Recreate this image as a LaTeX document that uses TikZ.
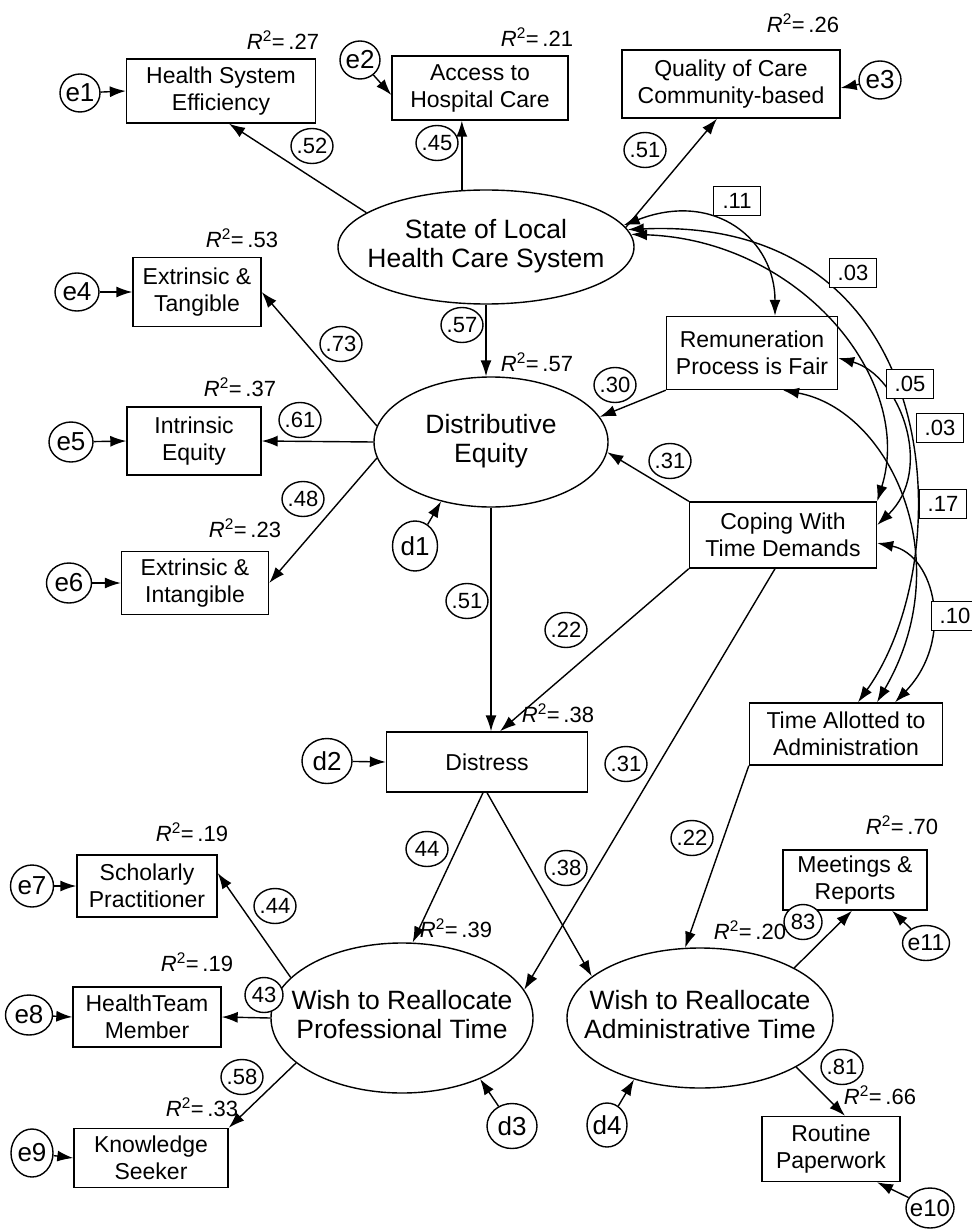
\documentclass[tikz,border=0pt]{standalone}
\usepackage{fontspec}
\setmainfont{Liberation Sans}
\usetikzlibrary{shapes.geometric,arrows.meta,calc}
\newcommand\Rsq[1]{\textit{R}\textsuperscript{2}=\,#1}
% text that does not widen the ellipse around it
\newcommand\zw[1]{\makebox[0pt]{#1}}
\newcommand\zww[1]{\makebox[0pt]{\raisebox{-4pt}{\begin{tabular}{@{}c@{}}#1\end{tabular}}}}
\begin{document}
\begin{tikzpicture}[x=1pt,y=-1pt,line width=1.4pt,
  >={Latex[length=16pt,width=11pt]},
  box/.style={draw,rectangle,inner sep=0pt,align=center,font=\fontsize{23}{27}\selectfont},
  lat/.style={draw,ellipse,inner sep=0pt,font=\fontsize{26.5}{29}\selectfont},
  err/.style={draw,ellipse,inner sep=0pt,font=\fontsize{26}{28}\selectfont},
  coef/.style={draw,ellipse,fill=white,inner sep=0pt,minimum width=42pt,minimum height=35pt,font=\fontsize{22}{24}\selectfont},
  corr/.style={draw,rectangle,fill=white,inner sep=0pt,minimum width=47pt,minimum height=29pt,font=\fontsize{22}{24}\selectfont},
  rsq/.style={inner sep=0pt,font=\fontsize{22}{24}\selectfont},
]
\useasboundingbox (0,0) rectangle (971,1230);

% latent variables
\node[lat,minimum width=296pt,minimum height=114pt] (slhcs) at (486,247) {\zww{State of Local\\Health Care System}};
\node[lat,minimum width=234pt,minimum height=130pt] (de) at (491,442) {\zww{Distributive\\Equity}};
\node[lat,minimum width=262pt,minimum height=150pt] (wrpt) at (402,1018) {\zww{Wish to Reallocate\\Professional Time}};
\node[lat,minimum width=266pt,minimum height=140pt] (wrat) at (700,1018) {\zww{Wish to Reallocate\\Administrative Time}};

% observed variables
\node[box,minimum width=189pt,minimum height=64pt] (hse) at (221,91) {Health System\\Efficiency};
\node[box,minimum width=176pt,minimum height=64pt] (acc) at (480,88) {Access to\\Hospital Care};
\node[box,minimum width=218pt,minimum height=68pt] (qual) at (731,84) {Quality of Care\\Community-based};
\node[box,minimum width=128pt,minimum height=69pt] (et) at (197,292) {Extrinsic \&\\Tangible};
\node[box,minimum width=134pt,minimum height=68pt] (ie) at (194,441) {Intrinsic\\Equity};
\node[box,minimum width=147pt,minimum height=63pt] (ei) at (195,583) {Extrinsic \&\\Intangible};
\node[box,minimum width=171pt,minimum height=73pt] (rem) at (752,353) {Remuneration\\Process is Fair};
\node[box,minimum width=187pt,minimum height=66pt] (cope) at (783,535) {Coping With\\Time Demands};
\node[box,minimum width=201pt,minimum height=60pt] (dist) at (487,762) {Distress};
\node[box,minimum width=193pt,minimum height=62pt] (time) at (846,734) {Time Allotted to\\Administration};
\node[box,minimum width=140pt,minimum height=62pt] (sch) at (147,886) {Scholarly\\Practitioner};
\node[box,minimum width=148pt,minimum height=60pt] (htm) at (147,1017) {HealthTeam\\Member};
\node[box,minimum width=154pt,minimum height=59pt] (ks) at (151,1158) {Knowledge\\Seeker};
\node[box,minimum width=144pt,minimum height=60pt] (meet) at (855,880) {Meetings \&\\Reports};
\node[box,minimum width=138pt,minimum height=65pt] (rout) at (831,1149) {Routine\\Paperwork};

% error and disturbance terms
\node[err,minimum width=40pt,minimum height=38pt] (e1) at (80,93) {\zw{e1}};
\node[err,minimum width=40pt,minimum height=38pt] (e2) at (360,60) {\zw{e2}};
\node[err,minimum width=42pt,minimum height=38pt] (e3) at (880,80) {\zw{e3}};
\node[err,minimum width=44pt,minimum height=38pt] (e4) at (77,292) {\zw{e4}};
\node[err,minimum width=44pt,minimum height=40pt] (e5) at (71,442) {\zw{e5}};
\node[err,minimum width=45pt,minimum height=40pt] (e6) at (69,583) {\zw{e6}};
\node[err,minimum width=43pt,minimum height=42pt] (e7) at (32,886) {\zw{e7}};
\node[err,minimum width=47pt,minimum height=40pt] (e8) at (29,1015) {\zw{e8}};
\node[err,minimum width=42pt,minimum height=48pt] (e9) at (32,1153) {\zw{e9}};
\node[err,minimum width=48pt,minimum height=40pt,font=\fontsize{24}{26}\selectfont] (e10) at (930,1208) {\zw{e10}};
\node[err,minimum width=47pt,minimum height=35pt,font=\fontsize{23}{25}\selectfont] (e11) at (926,943) {\zw{e11}};
\node[err,minimum width=45pt,minimum height=50pt] (d1) at (415,546) {\zw{d1}};
\node[err,minimum width=50pt,minimum height=45pt] (d2) at (327,761) {\zw{d2}};
\node[err,minimum width=50pt,minimum height=45pt] (d3) at (512,1126) {\zw{d3}};
\node[err,minimum width=40pt,minimum height=44pt] (d4) at (607,1125) {\zw{d4}};

% measurement paths
\draw[->] (slhcs.164) -- ($(hse.south)+(8,0)$);
\draw[->] (slhcs.113) -- (slhcs.113 |- acc.south);
\draw[->] (slhcs.8) -- ($(qual.south)+(-14,0)$);
\draw[->] (de.172) -- (et.east);
\draw[->] (de.west) -- (ie.east);
\draw[->] (de.188) -- (ei.east);
\draw[->] (wrpt.160) -- ($(sch.east)+(0,-13)$);
\draw[->] (wrpt.west) -- (htm.east);
\draw[->] (wrpt.203) -- (ks.north east);
\draw[->] (wrat.28) -- ($(meet.south)+(-3,0)$);
\draw[->] (wrat.333) -- ($(rout.north)+(14,0)$);

% structural paths
\draw[->] (slhcs.south) -- (slhcs.south |- de.north);
\draw[->] (rem.south west) -- (de.13);
\draw[->] (cope.north west) -- (de.355);
\draw[->] (de.south) -- (de.south |- dist.north);
\draw[->] (cope.south west) -- ($(dist.north)+(13,0)$);
\draw[->] ($(cope.south)+(-8,0)$) -- (wrpt.13);
\draw[->] ($(dist.south)+(-4,0)$) -- (wrpt.82);
\draw[->] (dist.south) -- (wrat.159);
\draw[->] (time.south west) -- (wrat.102);

% error arrows
\draw[->] (e1) -- (hse.west);
\draw[->] (e2) -- ($(acc.west)+(0,7)$);
\draw[->] (e3) -- ($(qual.east)+(0,4)$);
\draw[->] (e4) -- (et.west);
\draw[->] (e5) -- (ie.west);
\draw[->] (e6) -- (ei.west);
\draw[->] (e7) -- (sch.west);
\draw[->] (e8) -- (htm.west);
\draw[->] (e9) -- (ks.west);
\draw[->] (e10) -- ($(rout.south)+(46,0)$);
\draw[->] (e11) -- ($(meet.south)+(37,0)$);
\draw[->] (d1) -- (de.230);
\draw[->] (d2) -- (dist.west);
\draw[->] (d3) -- (wrpt.322);
\draw[->] (d4) -- (wrat.223);

% correlations among exogenous variables
\draw[<->] (slhcs.9) .. controls (715,190) and (775,240) .. ($(rem.north)+(23,0)$);
\draw[<->] (slhcs.7) .. controls (950,215) and (960,560) .. ($(time.north)+(12,0)$);
\draw[<->] (slhcs.5) .. controls (800,240) and (915,380) .. (cope.north east);
\draw[<->] ($(rem.east)+(0,5)$) .. controls (900,375) and (935,470) .. ($(cope.east)+(0,-10)$);
\draw[<->] ($(rem.south)+(31,0)$) .. controls (890,410) and (960,560) .. ($(time.north)+(31,0)$);
\draw[<->] ($(cope.east)+(0,8)$) .. controls (935,555) and (955,640) .. ($(time.north)+(49,0)$);

% path coefficients
\node[coef] (c52) at (312,146) {\zw{.52}};
\node[coef] (c45) at (437,143) {\zw{.45}};
\node[coef] (c51a) at (645,150) {\zw{.51}};
\node[coef] (c57) at (462,325) {\zw{.57}};
\node[coef] (c73) at (341,344) {\zw{.73}};
\node[coef] (c61) at (300,420) {\zw{.61}};
\node[coef] (c48) at (303,499) {\zw{.48}};
\node[coef] (c30) at (615,385) {\zw{.30}};
\node[coef] (c31a) at (670,461) {\zw{.31}};
\node[coef] (c51b) at (467,601) {\zw{.51}};
\node[coef] (c22a) at (566,630) {\zw{.22}};
\node[coef] (c31b) at (626,764) {\zw{.31}};
\node[coef] (c44a) at (427,849) {\zw{44}};
\node[coef] (c38) at (566,868) {\zw{.38}};
\node[coef] (c22b) at (692,838) {\zw{.22}};
\node[coef,minimum width=38pt] (c83) at (803,922) {\zw{83}};
\node[coef] (c44b) at (275,906) {\zw{.44}};
\node[coef,minimum width=38pt] (c43) at (264,995) {\zw{43}};
\node[coef] (c58) at (242,1077) {\zw{.58}};
\node[coef] (c81) at (842,1067) {\zw{.81}};

% correlation values
\node[corr] (k11) at (737,201) {.11};
\node[corr] (k03a) at (853,273) {.03};
\node[corr] (k05) at (910,384) {.05};
\node[corr] (k03b) at (940,428) {.03};
\node[corr] (k17) at (943,504) {.17};
\node[corr] (k10) at (955,616) {.10};

% squared multiple correlations
\node[rsq] (r27) at (283,40) {\Rsq{.27}};
\node[rsq] (r21) at (537,37) {\Rsq{.21}};
\node[rsq] (r26) at (803,23) {\Rsq{.26}};
\node[rsq] (r53) at (242,238) {\Rsq{.53}};
\node[rsq] (r57) at (537,362) {\Rsq{.57}};
\node[rsq] (r37) at (240,387) {\Rsq{.37}};
\node[rsq] (r23) at (245,528) {\Rsq{.23}};
\node[rsq] (r38) at (558,713) {\Rsq{.38}};
\node[rsq] (r19a) at (192,832) {\Rsq{.19}};
\node[rsq] (r39) at (456,928) {\Rsq{.39}};
\node[rsq] (r19b) at (197,962) {\Rsq{.19}};
\node[rsq] (r33) at (202,1107) {\Rsq{.33}};
\node[rsq] (r20) at (750,930) {\Rsq{.20}};
\node[rsq] (r70) at (902,825) {\Rsq{.70}};
\node[rsq] (r66) at (880,1095) {\Rsq{.66}};
\end{tikzpicture}
\end{document}
